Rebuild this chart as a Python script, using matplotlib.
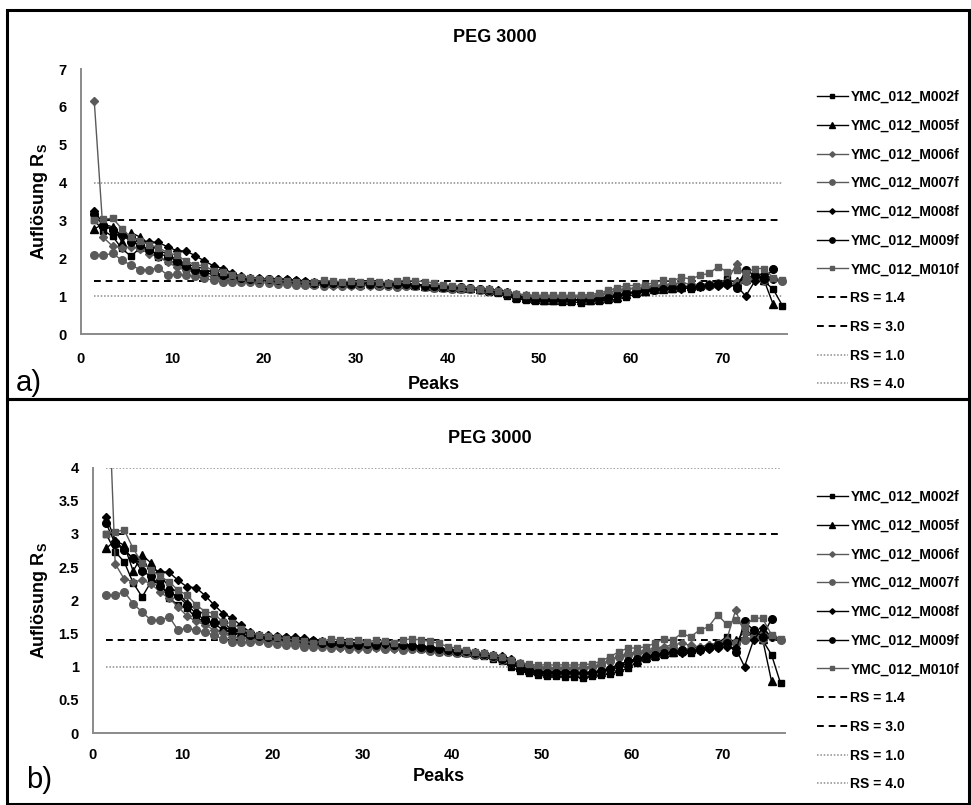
import numpy as np
import matplotlib
matplotlib.use("Agg")
import matplotlib.pyplot as plt
from matplotlib.patches import Rectangle
from matplotlib.ticker import FuncFormatter

plt.rcParams["font.family"] = ["Liberation Sans", "DejaVu Sans"]
plt.rcParams["font.weight"] = "bold"
plt.rcParams["mathtext.fontset"] = "custom"
plt.rcParams["mathtext.rm"] = "Liberation Sans:bold"
plt.rcParams["mathtext.it"] = "Liberation Sans:bold"

nan = np.nan
peaks = np.arange(1, 77)

m002f = [3.00, 2.73, 2.58, 2.26, 2.05, 2.28, 2.26, 2.03, 1.93, 1.88, 1.73, 1.68, 1.65, 1.55, 1.52, 1.48, 1.46,
         1.44, 1.42, 1.42, 1.40, 1.38, 1.36, 1.33, 1.32, 1.33, 1.31, 1.32, 1.30, 1.29,
         1.30, 1.28, 1.30, 1.28, 1.31, 1.27, 1.25, 1.22, 1.22, 1.20, 1.20, 1.18, 1.16, 1.12, 1.08,
         1.00, 0.93, 0.90, 0.87, 0.86, 0.86, 0.85, 0.85, 0.83, 0.86, 0.88, 0.89, 0.92, 0.98, 1.06,
         1.12, 1.15, 1.18, 1.20, 1.22, 1.20, 1.25, 1.30, 1.35, 1.45, 1.35, 1.55, 1.48, 1.40, 1.18, 0.75]
m005f = [2.78, 2.90, 2.83, 2.44, 2.68, 2.56, 2.36, 2.21, 2.11, 1.96, 1.86, 1.78, 1.73, 1.60, 1.55, 1.52, 1.49,
         1.47, 1.46, 1.45, 1.44, 1.42, 1.40, 1.38, 1.36, 1.38, 1.35, 1.36, 1.34, 1.33,
         1.35, 1.33, 1.34, 1.31, 1.33, 1.30, 1.28, 1.27, 1.25, 1.24, 1.22, 1.21, 1.19, 1.17, 1.14,
         1.08, 0.99, 0.95, 0.93, 0.91, 0.91, 0.90, 0.90, 0.89, 0.90, 0.92, 0.95, 0.99, 1.05, 1.10,
         1.14, 1.18, 1.20, 1.22, 1.25, 1.27, 1.30, 1.32, 1.36, 1.38, 1.40, 1.45, 1.50, 1.42, 0.78, nan]
m006f = [6.15, 2.55, 2.32, 2.28, 2.30, 2.25, 2.12, 2.03, 1.90, 1.76, 1.68, 1.63, 1.55, 1.50, 1.45, 1.43, 1.41,
         1.40, 1.39, 1.38, 1.37, 1.36, 1.33, 1.30, 1.31, 1.30, 1.28, 1.30, 1.27, 1.31,
         1.28, 1.30, 1.27, 1.29, 1.27, 1.30, 1.27, 1.26, 1.24, 1.23, 1.22, 1.20, 1.18, 1.16, 1.13,
         1.10, 1.05, 1.02, 1.00, 0.99, 0.98, 0.99, 0.98, 0.99, 1.00, 1.04, 1.10, 1.16, 1.20, 1.22,
         1.25, 1.28, 1.30, 1.33, 1.35, 1.32, 1.30, 1.33, 1.35, 1.40, 1.85, 1.50, 1.45, 1.40, 1.45, nan]
m007f = [2.08, 2.08, 2.13, 1.95, 1.82, 1.70, 1.70, 1.75, 1.55, 1.58, 1.55, 1.52, 1.47, 1.42, 1.37, 1.37, 1.37,
         1.38, 1.36, 1.34, 1.33, 1.32, 1.30, 1.29, 1.30, 1.28, 1.30, 1.27, 1.29, 1.26,
         1.29, 1.27, 1.28, 1.25, 1.27, 1.26, 1.24, 1.22, 1.22, 1.20, 1.20, 1.18, 1.17, 1.14, 1.10,
         1.06, 1.02, 1.00, 0.98, 0.97, 0.97, 0.97, 0.97, 0.98, 0.99, 1.02, 1.08, 1.15, 1.18, 1.20,
         1.22, 1.24, 1.26, 1.28, 1.25, 1.27, 1.26, 1.28, 1.30, 1.32, 1.35, 1.40, 1.45, 1.50, 1.45, 1.40]
m008f = [3.26, 2.90, 2.76, 2.62, 2.55, 2.48, 2.43, 2.42, 2.30, 2.20, 2.19, 2.07, 1.93, 1.80, 1.73, 1.62, 1.52,
         1.48, 1.47, 1.46, 1.45, 1.44, 1.43, 1.40, 1.38, 1.37, 1.38, 1.36, 1.35, 1.34,
         1.36, 1.34, 1.33, 1.34, 1.32, 1.31, 1.30, 1.28, 1.26, 1.25, 1.24, 1.22, 1.20, 1.18, 1.16,
         1.12, 1.02, 0.96, 0.93, 0.92, 0.92, 0.92, 0.92, 0.91, 0.92, 0.94, 0.98, 1.03, 1.08, 1.12,
         1.16, 1.18, 1.20, 1.22, 1.20, 1.22, 1.24, 1.26, 1.28, 1.30, 1.28, 1.00, 1.40, 1.58, 1.45, nan]
m009f = [3.16, 2.85, 2.76, 2.63, 2.44, 2.36, 2.21, 2.11, 2.06, 1.93, 1.80, 1.70, 1.65, 1.67, 1.55, 1.55, 1.48,
         1.46, 1.45, 1.44, 1.43, 1.42, 1.40, 1.38, 1.36, 1.35, 1.36, 1.34, 1.33, 1.34,
         1.33, 1.35, 1.32, 1.33, 1.31, 1.30, 1.28, 1.27, 1.25, 1.24, 1.23, 1.21, 1.19, 1.16, 1.12,
         1.05, 0.97, 0.93, 0.91, 0.90, 0.90, 0.90, 0.90, 0.90, 0.91, 0.93, 0.96, 1.02, 1.08, 1.12,
         1.15, 1.17, 1.20, 1.22, 1.25, 1.24, 1.26, 1.30, 1.33, 1.35, 1.22, 1.68, 1.55, 1.45, 1.72, nan]
m010f = [3.00, 3.03, 3.06, 2.78, 2.56, 2.46, 2.36, 2.28, 2.15, 2.08, 1.93, 1.83, 1.80, 1.67, 1.65, 1.57, 1.51,
         1.48, 1.46, 1.44, 1.42, 1.40, 1.38, 1.36, 1.38, 1.42, 1.40, 1.38, 1.40, 1.37,
         1.40, 1.38, 1.36, 1.40, 1.42, 1.40, 1.38, 1.35, 1.30, 1.28, 1.25, 1.22, 1.20, 1.18, 1.14,
         1.10, 1.06, 1.04, 1.02, 1.03, 1.02, 1.03, 1.02, 1.03, 1.04, 1.08, 1.15, 1.22, 1.28, 1.28,
         1.30, 1.35, 1.42, 1.40, 1.50, 1.45, 1.55, 1.60, 1.78, 1.64, 1.70, 1.60, 1.73, 1.73, 1.48, 1.42]

series_names = ["YMC_012_M002f", "YMC_012_M005f", "YMC_012_M006f", "YMC_012_M007f",
                "YMC_012_M008f", "YMC_012_M009f", "YMC_012_M010f"]
series_values = [m002f, m005f, m006f, m007f, m008f, m009f, m010f]

ref_names = ["RS = 1.4", "RS = 3.0", "RS = 1.0", "RS = 4.0"]
ref_levels = [1.4, 3.0, 1.0, 4.0]

title = "PEG 3000"
xlabel = "Peaks"
ylabel = r"Auflösung R$_\mathrm{S}$"

BLACK = "#000000"
GRAY = "#5a5a5a"
series_styles = [("s", BLACK, 5.0), ("^", BLACK, 5.5), ("D", GRAY, 4.0), ("o", GRAY, 5.5),
                 ("D", BLACK, 4.0), ("o", BLACK, 5.5), ("s", GRAY, 5.0)]
ref_styles = [((0, (3.5, 2.5)), BLACK, 1.4), ((0, (3.5, 2.5)), BLACK, 1.4),
              ((0, (1, 1.2)), "#8a8a8a", 1.1), ((0, (1, 1.2)), "#8a8a8a", 1.1)]

W, H = 971, 805
fig = plt.figure(figsize=(W / 100, H / 100), dpi=100)


def fx(px):
    return px / W


def fy(py):
    return 1 - py / H


# Each panel: axes box (px), y range, tick step, panel tag, text positions (px)
panels = [
    dict(box=(80.5, 69, 787, 334), ymax=7, ystep=1, tag="a)", tag_xy=(16, 383),
         title_xy=(495, 37), xlabel_y=384, xpad=13, leg_y=90),
    dict(box=(92.7, 467.5, 785, 733), ymax=4, ystep=0.5, tag="b)", tag_xy=(26, 780),
         title_xy=(490, 438), xlabel_y=776, xpad=11, leg_y=490),
]

xpos = peaks + 0.5

for p in panels:
    x0, y0, x1, y1 = p["box"]
    ax = fig.add_axes([fx(x0), fy(y1), fx(x1) - fx(x0), fy(y0) - fy(y1)])
    for name, vals, (mk, col, ms) in zip(series_names, series_values, series_styles):
        ax.plot(xpos, vals, color=col, lw=1.0, marker=mk, ms=ms, mfc=col, mec=col,
                label=name, zorder=3)
    for name, lvl, (ls, col, lw) in zip(ref_names, ref_levels, ref_styles):
        ax.plot(xpos, np.full(len(peaks), lvl), color=col, ls=ls, lw=lw, label=name, zorder=2)

    ax.set_xlim(0, 77.0)
    ax.set_ylim(0, p["ymax"])
    ax.set_xticks(np.arange(0, 71, 10))
    ax.set_yticks(np.arange(0, p["ymax"] + 1e-9, p["ystep"]))
    ax.yaxis.set_major_formatter(FuncFormatter(lambda v, _: f"{v:g}"))
    ax.tick_params(length=0, labelsize=10.5, pad=10)
    ax.tick_params(axis="x", pad=p["xpad"])
    for lab in ax.get_xticklabels() + ax.get_yticklabels():
        lab.set_fontweight("bold")
    for s in ("top", "right"):
        ax.spines[s].set_visible(False)
    for s in ("left", "bottom"):
        ax.spines[s].set_color("#8a8a8a")
        ax.spines[s].set_linewidth(1.4)

    ax.set_ylabel(ylabel, fontsize=13, fontweight="bold", labelpad=6)
    fig.text(fx((x0 + x1) / 2), fy(p["xlabel_y"]), xlabel, ha="center", va="center",
             fontsize=13, fontweight="bold")
    fig.text(fx(p["title_xy"][0]), fy(p["title_xy"][1]), title, ha="center", va="center",
             fontsize=13, fontweight="bold")
    fig.text(fx(p["tag_xy"][0]), fy(p["tag_xy"][1]), p["tag"], ha="left", va="center",
             fontsize=21, fontweight="normal")

    ax.legend(loc="upper left", bbox_to_anchor=(fx(817), fy(p["leg_y"])),
              bbox_transform=fig.transFigure, frameon=False, handlelength=2.2,
              handletextpad=0.2, labelspacing=1.06, borderpad=0, borderaxespad=0,
              markerscale=0.7, prop=dict(size=10, weight="bold"))

# panel frames
for (top, bottom) in [(10, 399), (399, 804)]:
    fig.add_artist(Rectangle((fx(7), fy(bottom)), fx(969) - fx(7), fy(top) - fy(bottom),
                             transform=fig.transFigure, fill=False, ec="black", lw=2.2))

fig.savefig("out.png", dpi=100)
